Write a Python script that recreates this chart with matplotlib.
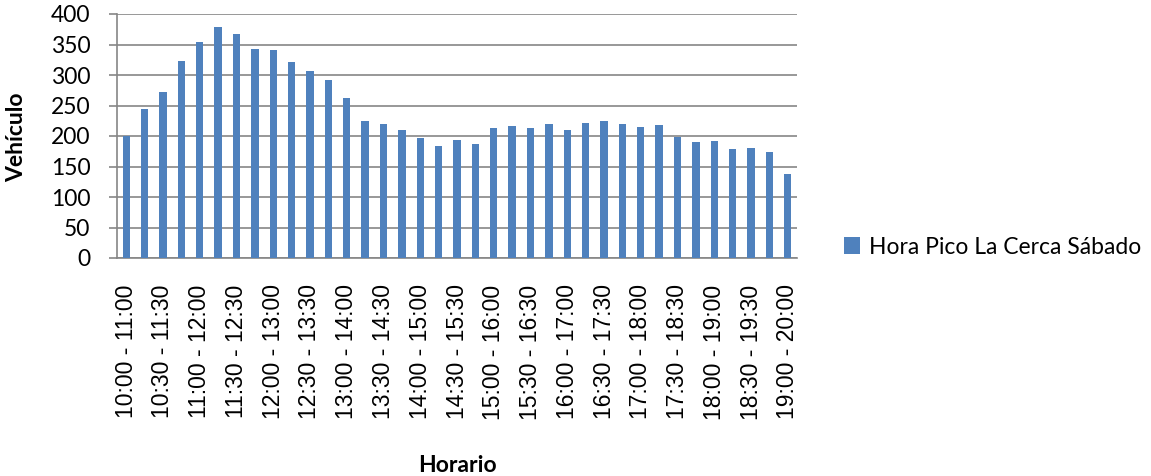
import matplotlib
matplotlib.use("Agg")
import matplotlib.pyplot as plt

categories = [
    "10:00 - 11:00", "10:15 - 11:15", "10:30 - 11:30", "10:45 - 11:45",
    "11:00 - 12:00", "11:15 - 12:15", "11:30 - 12:30", "11:45 - 12:45",
    "12:00 - 13:00", "12:15 - 13:15", "12:30 - 13:30", "12:45 - 13:45",
    "13:00 - 14:00", "13:15 - 14:15", "13:30 - 14:30", "13:45 - 14:45",
    "14:00 - 15:00", "14:15 - 15:15", "14:30 - 15:30", "14:45 - 15:45",
    "15:00 - 16:00", "15:15 - 16:15", "15:30 - 16:30", "15:45 - 16:45",
    "16:00 - 17:00", "16:15 - 17:15", "16:30 - 17:30", "16:45 - 17:45",
    "17:00 - 18:00", "17:15 - 18:15", "17:30 - 18:30", "17:45 - 18:45",
    "18:00 - 19:00", "18:15 - 19:15", "18:30 - 19:30", "18:45 - 19:45",
    "19:00 - 20:00",
]
values = [200, 245, 272, 323, 354, 379, 367, 342, 341, 321, 307, 292, 263,
          224, 219, 210, 196, 184, 193, 187, 213, 217, 213, 220, 210, 222,
          224, 219, 214, 218, 198, 190, 191, 179, 180, 173, 138]
series_name = "Hora Pico La Cerca Sábado"
y_ticks = [0, 50, 100, 150, 200, 250, 300, 350, 400]

BAR = "#4F81BD"
GRID = "#868686"

fig = plt.figure(figsize=(11.51, 4.76), dpi=100)
ax = fig.add_axes([117/1151, 1-258/476, 680/1151, 244/476])

x = list(range(len(values)))
ax.bar(x, values, width=0.4, color=BAR, label=series_name, zorder=3)

ax.set_xlim(-0.5, len(values) - 0.5)
ax.set_ylim(0, 400)
ax.set_yticks(y_ticks)
ax.yaxis.grid(True, color=GRID, linewidth=1.2, zorder=0)
ax.set_axisbelow(True)

ax.set_xticks(x[::2])
ax.set_xticklabels(categories[::2], rotation=90, fontsize=16.5,
                   family=["Liberation Sans", "DejaVu Sans"])
ax.tick_params(axis="x", length=0, pad=19)
ax.tick_params(axis="y", length=6, color=GRID, width=1.2, pad=13,
               labelsize=16.5)
for lab in ax.get_yticklabels():
    lab.set_family(["Lato", "DejaVu Sans"])

for s in ["top", "right"]:
    ax.spines[s].set_visible(False)
for s in ["left", "bottom"]:
    ax.spines[s].set_color(GRID)
    ax.spines[s].set_linewidth(1.2)

fig.text(17/1151, 1-137/476, "Vehículo", rotation=90, ha="center", va="center",
         fontsize=16.5, fontweight="bold", family=["Lato", "DejaVu Sans"])
fig.text(457/1151, 1-465/476, "Horario", ha="center", va="center",
         fontsize=16.5, fontweight="bold", family=["Lato", "DejaVu Sans"])

leg = fig.legend(loc="center left", bbox_to_anchor=(835/1151, 1-247/476),
                 frameon=False, handlelength=0.7, handleheight=0.7,
                 handletextpad=0.4, borderaxespad=0,
                 prop={"family": ["Lato", "DejaVu Sans"], "size": 16.5})

fig.savefig("out.png", dpi=100)
